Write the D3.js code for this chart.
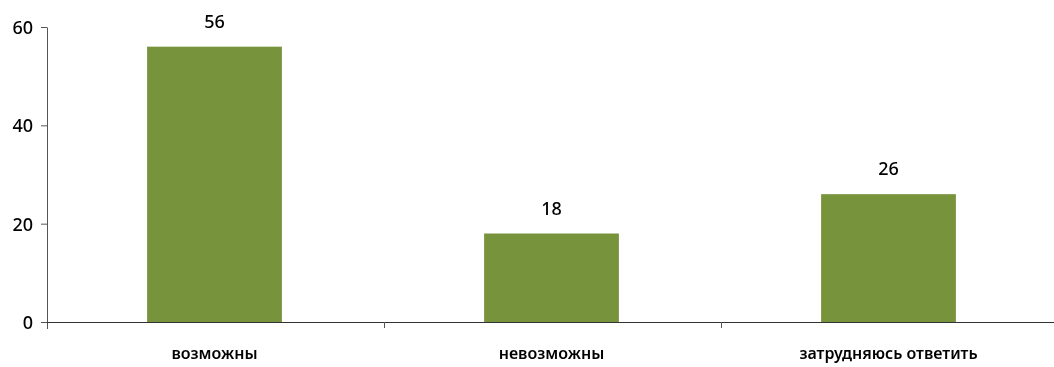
<!DOCTYPE html>
<html>
  <head>
    <meta charset="utf-8" />
    <title>Bar chart</title>
    <script src="https://d3js.org/d3.v7.min.js"></script>
    <style>
      body { margin: 0; background: #fff; }
      #chart { position: fixed; left: 0; top: 0; width: 1054px; height: 367px; }
      text { font-family: "Noto Sans", sans-serif; fill: #000; }
    </style>
  </head>
  <body>
    <div id="chart"></div>
    <script>
      const categories = ["возможны", "невозможны", "затрудняюсь ответить"];
      const values = [56, 18, 26];
      const yTicks = [0, 20, 40, 60];

      const width = 1054, height = 367;
      // plot area runs a little past the right edge of the window, as in the source
      const margin = { left: 47, right: -4, top: 27, bottom: 45 };

      const svg = d3.select("#chart").append("svg")
        .attr("width", width).attr("height", height);

      const x = d3.scaleBand()
        .domain(categories)
        .range([margin.left, width - margin.right])
        .paddingInner(0.6)
        .paddingOuter(0.3);

      const y = d3.scaleLinear()
        .domain([0, 60])
        .range([height - margin.bottom, margin.top]);

      // bars
      svg.selectAll("rect.bar").data(values).enter()
        .append("rect")
        .attr("class", "bar")
        .attr("x", (d, i) => x(categories[i]) - 1)
        .attr("y", d => y(d))
        .attr("width", x.bandwidth())
        .attr("height", d => y(0) - y(d))
        .attr("fill", "#77933c");

      // value labels
      svg.selectAll("text.val").data(values).enter()
        .append("text")
        .attr("class", "val")
        .attr("x", (d, i) => x(categories[i]) - 1 + x.bandwidth() / 2)
        .attr("y", d => y(d) - 19)
        .attr("text-anchor", "middle")
        .style("font-size", "18px")
        .style("font-weight", "500")
        .text(d => d);

      // y axis
      const yAxis = svg.append("g")
        .attr("transform", `translate(${margin.left},0)`)
        .call(d3.axisLeft(y).tickValues(yTicks).tickSize(6).tickSizeOuter(0));
      yAxis.select(".domain").attr("stroke", "#555");
      yAxis.selectAll(".tick line").attr("stroke", "#555");
      yAxis.selectAll(".tick text")
        .attr("x", -14)
        .attr("dy", "0.36em")
        .style("font-size", "18px")
        .style("font-weight", "500")
        .style("font-family", "'Noto Sans', sans-serif")
        .attr("fill", "#000");
      // axis line continues a bit below zero
      yAxis.append("line")
        .attr("x1", 0.5).attr("x2", 0.5)
        .attr("y1", y(0)).attr("y2", y(0) + 7)
        .attr("stroke", "#555");

      // x axis: boundaries between categories as ticks
      const span = (width - margin.right - margin.left) / categories.length;
      const bounds = d3.range(1, categories.length).map(i => margin.left + i * span);
      const xg = svg.append("g");
      xg.append("line")
        .attr("x1", margin.left).attr("x2", width)
        .attr("y1", y(0) + 0.5).attr("y2", y(0) + 0.5)
        .attr("stroke", "#333").attr("stroke-width", 1.2);
      xg.selectAll("line.tk").data(bounds).enter()
        .append("line")
        .attr("class", "tk")
        .attr("x1", d => Math.round(d) + 0.5).attr("x2", d => Math.round(d) + 0.5)
        .attr("y1", y(0)).attr("y2", y(0) + 6)
        .attr("stroke", "#555");

      xg.selectAll("text.cat").data(categories).enter()
        .append("text")
        .attr("class", "cat")
        .attr("x", d => x(d) - 1 + x.bandwidth() / 2)
        .attr("y", height - 8)
        .attr("text-anchor", "middle")
        .style("font-size", "16px")
        .style("font-weight", "600")
        .text(d => d);
    </script>
  </body>
</html>
